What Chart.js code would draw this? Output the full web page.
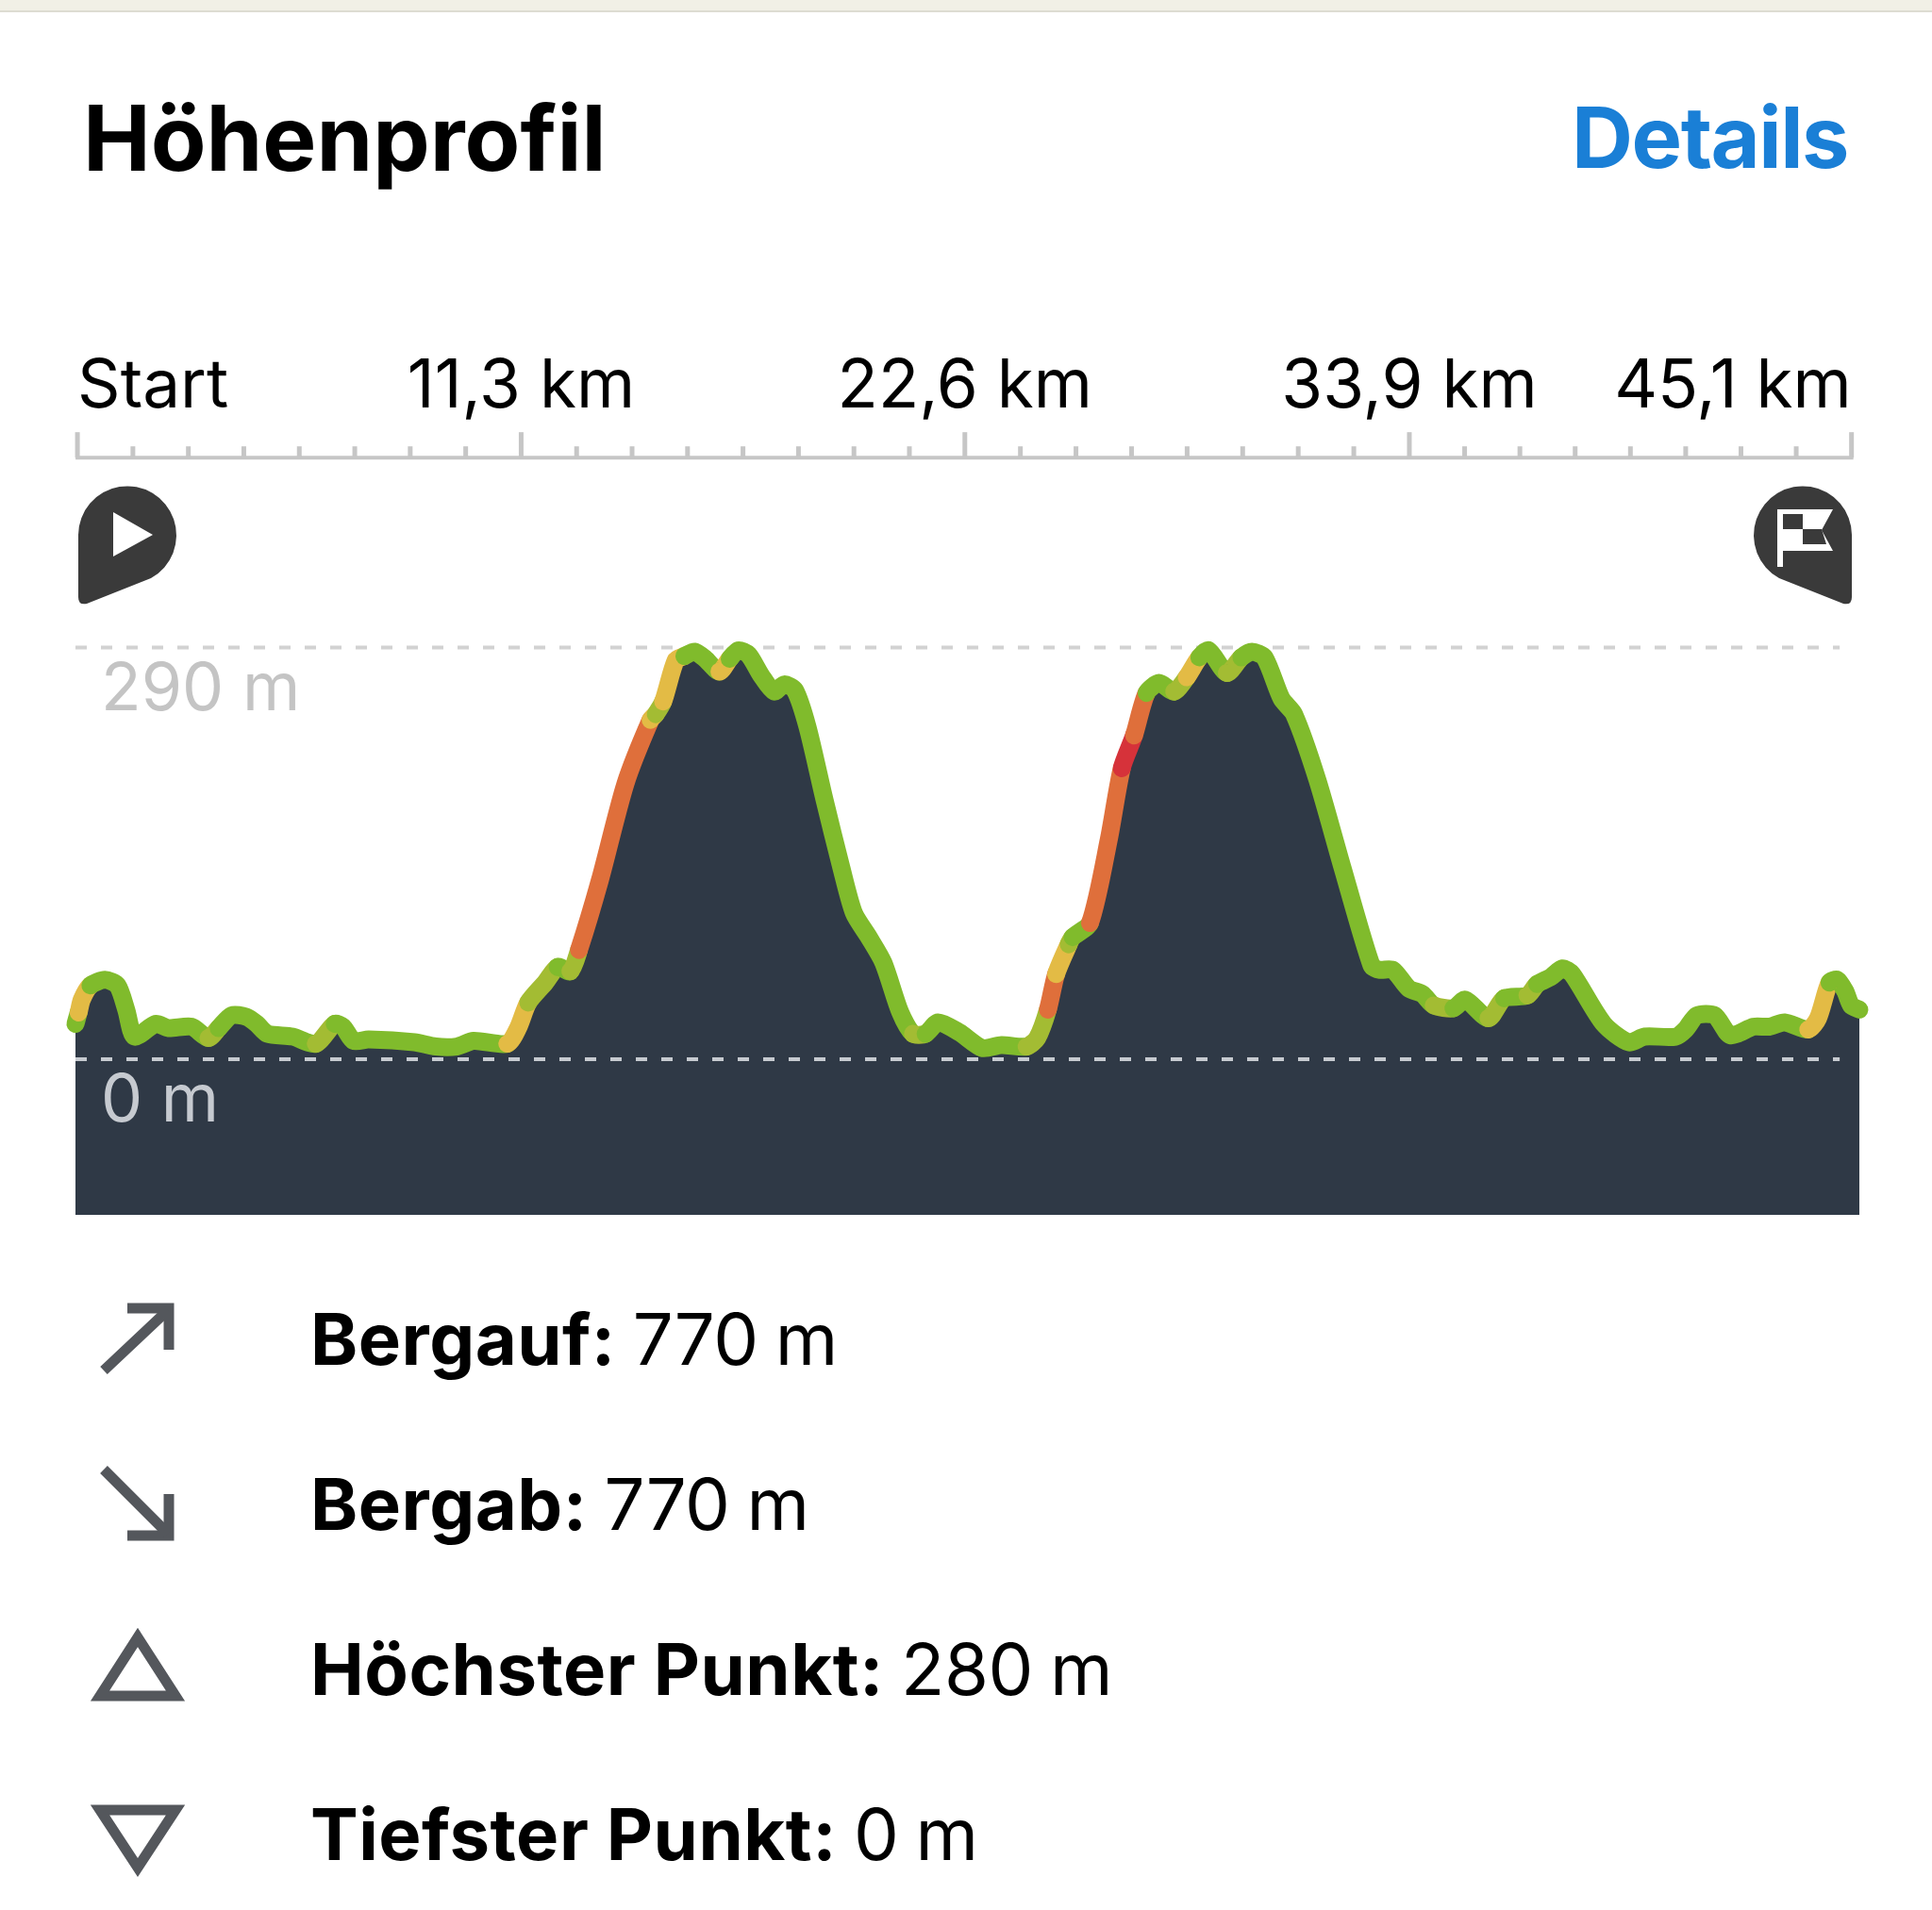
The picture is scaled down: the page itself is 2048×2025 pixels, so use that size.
<!DOCTYPE html>
<html lang="de">
<head>
<meta charset="utf-8">
<title>Höhenprofil</title>
<script src="https://cdn.jsdelivr.net/npm/chart.js@4/dist/chart.umd.js"></script>
<style>
    html, body { margin: 0; background: #ffffff; }
    body { position: relative; width: 2048px; height: 2025px; overflow: hidden; font-family: Inter, "Noto Sans", sans-serif; color: #000000; }
    #topStripe { position: absolute; left: 0; top: 0; width: 2048px; height: 11px; background: #f1f0e6; border-bottom: 2px solid #dddcd2; }
    #profile { position: absolute; left: 0; top: 0; }
    #icons { position: absolute; left: 0; top: 0; }
    .heading { position: absolute; top: 92px; font-weight: 700; line-height: 108px; white-space: nowrap; }
    #title { left: 88px; font-size: 96px; }
    #details { right: 89px; font-size: 90px; letter-spacing: -1.5px; color: #1a7fd6; }
    .stat { position: absolute; left: 329px; font-size: 76px; line-height: 90px; letter-spacing: -0.4px; word-spacing: -3px; white-space: nowrap; }
    .stat b { font-weight: 700; letter-spacing: 0.5px; word-spacing: 0; }
</style>
</head>
<body>
<div id="topStripe"></div>
<canvas id="profile" width="2048" height="2025"></canvas>
<svg id="icons" width="2048" height="2025" viewBox="0 0 2048 2025">
    <!-- start pin -->
    <path d="M83 567 A52 52 0 1 1 160 613 L92 640 Q83 642 83 633 Z" fill="#3a3a3a"/>
    <path d="M120 543 L162 567 L120 590 Z" fill="#ffffff"/>
    <!-- finish pin -->
    <path d="M1963 567 A52 52 0 1 0 1886 613 L1954 640 Q1963 642 1963 633 Z" fill="#3a3a3a"/>
    <path d="M1884 540 L1943 540 L1931 562 L1943 584 L1890 584 L1890 601 L1884 601 Z" fill="#ffffff"/>
    <path d="M1890 545 L1911 545 L1911 561 L1890 561 Z M1911 561 L1931 561 L1936 577 L1911 577 Z" fill="#3a3a3a"/>
    <!-- stats icons -->
    <g fill="none" stroke="#54575c" stroke-width="11">
        <path d="M135 1387 L179 1387 L179 1431"/>
        <path d="M110 1453 L178 1389"/>
        <path d="M135 1628 L179 1628 L179 1584"/>
        <path d="M110 1558 L178 1626"/>
        <path d="M146 1736 L186 1798 L106 1798 Z"/>
        <path d="M106 1919 L186 1919 L146 1980 Z"/>
    </g>
</svg>
<div id="title" class="heading">Höhenprofil</div>
<div id="details" class="heading">Details</div>

<script>
// Route profile
const distanceKm = [
    -0.05, 0.03, 0.11, 0.33, 0.70, 1.02, 1.24, 1.45, 1.99, 2.31, 2.90, 3.33, 3.59, 3.92, 4.29, 4.56, 4.83, 5.47,
    6.06, 6.54, 6.75, 7.02, 7.40, 8.57, 9.11, 9.64, 10.07, 10.93, 11.20, 11.46, 11.89, 12.21, 12.53, 12.75,
    13.28, 13.93, 14.57, 14.70, 14.89, 15.21, 15.43, 15.69, 15.96, 16.32, 16.58, 16.80, 17.06, 17.39, 17.71,
    17.97, 18.24, 18.56, 18.99, 19.42, 19.74, 20.12, 20.49, 20.92, 21.24, 21.56, 21.88, 22.42, 23.00, 23.49,
    24.13, 24.40, 24.67, 24.88, 25.20, 25.30, 25.74, 26.22, 26.55, 26.86, 27.18, 27.50, 27.88, 28.20, 28.52,
    28.76, 29.22, 29.59, 29.86, 30.18, 30.61, 30.93, 31.52, 32.16, 32.90, 33.10, 33.44, 33.84, 34.19, 34.48,
    34.98, 35.28, 35.87, 36.27, 36.86, 37.11, 37.46, 37.75, 38.00, 38.80, 39.44, 39.84, 40.63, 40.88, 41.17,
    41.62, 42.02, 42.61, 43.01, 43.40, 44.00, 44.25, 44.54, 44.74, 44.94, 45.09, 45.30
];
const elevationM = [
    25, 33, 42, 52, 56, 52, 35, 16, 25, 22, 23, 15, 22, 31, 30, 25, 18, 16,
    11, 25, 23, 13, 14, 12, 9, 9, 13, 11, 22, 40, 54, 65, 62, 77,
    126, 194, 239, 243, 252, 281, 284, 287, 282, 273, 282, 288, 285, 270, 259,
    264, 260, 234, 183, 135, 103, 86, 68, 33, 18, 18, 26, 19, 8, 10,
    9, 15, 35, 60, 81, 86, 96, 155, 205, 228, 258, 265, 259, 269, 283,
    288, 272, 283, 287, 283, 254, 243, 197, 135, 66, 63, 63, 50, 46, 38,
    36, 42, 29, 43, 45, 53, 58, 64, 60, 25, 12, 16, 16, 21, 31,
    31, 17, 23, 23, 26, 21, 29, 54, 56, 48, 38, 35
];

// Steepness bands along the route: band i starts at gradeStartKm[i]
const gradeStartKm = [
    -0.05, 0.03, 0.33, 3.33, 3.59, 6.06, 6.54, 10.93, 11.46, 12.21, 12.53, 12.75, 14.57, 14.70, 14.89, 15.43,
    16.32, 16.58, 21.24, 21.56, 24.13, 24.67, 24.88, 25.20, 25.30, 25.74, 26.55, 26.86, 27.18, 27.88, 28.20, 28.52,
    29.22, 29.59, 34.48, 34.98, 35.87, 36.27, 36.86, 37.11, 37.46, 44.00, 44.54
];
const gradeBand = [
    'flat', 'medium', 'flat', 'gentle', 'flat', 'gentle', 'flat', 'medium', 'gentle', 'flat', 'gentle', 'steep', 'medium', 'gentle', 'medium', 'flat',
    'medium', 'flat', 'gentle', 'flat', 'gentle', 'steep', 'medium', 'gentle', 'flat', 'steep', 'extreme', 'steep', 'flat', 'gentle', 'medium', 'flat',
    'gentle', 'flat', 'gentle', 'flat', 'gentle', 'flat', 'gentle', 'flat', 'flat', 'medium', 'flat'
];

const majorTickKm = [0, 11.28, 22.56, 33.86, 45.1];
const majorTickLabels = ['Start', '11,3 km', '22,6 km', '33,9 km', '45,1 km'];
const elevationTicks = [0, 290];
const elevationTickLabels = ['0 m', '290 m'];
const guideEndKm = 44.8;

const statNames = ['Bergauf:', 'Bergab:', 'Höchster Punkt:', 'Tiefster Punkt:'];
const statValues = ['770 m', '770 m', '280 m', '0 m'];

const GRADE_COLORS = {
    flat: '#80bb2c',
    gentle: '#a3bc33',
    medium: '#e3bb45',
    steep: '#df6f3b',
    extreme: '#d6323a'
};
const MINOR_PER_MAJOR = 8;
const STAT_TOPS = [1374, 1549, 1724, 1899];

// Stats list under the chart
statNames.forEach((name, i) => {
    const row = document.createElement('div');
    row.className = 'stat';
    row.style.top = `${STAT_TOPS[i]}px`;
    row.innerHTML = `<b>${name}</b> ${statValues[i]}`;
    document.body.appendChild(row);
});

function gradeColorAt(km) {
    let band = gradeBand[0];
    gradeStartKm.forEach((start, i) => {
        if (km >= start) band = gradeBand[i];
    });
    return GRADE_COLORS[band];
}

function allTicks() {
    // every major interval is split into eight small ticks
    const ticks = [];
    for (let i = 0; i < majorTickKm.length - 1; i++) {
        const step = (majorTickKm[i + 1] - majorTickKm[i]) / MINOR_PER_MAJOR;
        for (let j = 0; j < MINOR_PER_MAJOR; j++) {
            ticks.push(majorTickKm[i] + j * step);
        }
    }
    ticks.push(majorTickKm[majorTickKm.length - 1]);
    return ticks;
}

// Axis labels may hang over the plot, so keep the layout from reserving room for them
function noLabelPadding(scale) {
    scale.paddingLeft = 0;
    scale.paddingRight = 0;
    scale.paddingTop = 0;
    scale.paddingBottom = 0;
}

const profilePoints = distanceKm.map((km, i) => ({ x: km, y: elevationM[i] }));

function guideLine(elevation, color) {
    return {
        data: [{ x: distanceKm[0], y: elevation }, { x: guideEndKm, y: elevation }],
        borderColor: color,
        borderWidth: 4,
        borderDash: [12, 15],
        pointRadius: 0,
        fill: false
    };
}

// Ruler above the chart: long ticks at the labels, short ones between,
// first and last label flush with the ends of the ruler
const rulerPlugin = {
    id: 'ruler',
    beforeDraw(chart) {
        const x = chart.scales.x;
        const items = x.getLabelItems(chart.chartArea);
        items[0].options.textAlign = 'left';
        items[items.length - 1].options.textAlign = 'right';

        const ctx = chart.ctx;
        const baseY = chart.chartArea.top - 1;
        ctx.save();
        ctx.strokeStyle = '#c6c6c6';
        ctx.lineWidth = 4;
        ctx.beginPath();
        ctx.moveTo(x.getPixelForValue(0) - 2, baseY);
        ctx.lineTo(x.getPixelForValue(45.1) + 2, baseY);
        ctx.stroke();
        ctx.lineWidth = 5;
        allTicks().forEach((km, i) => {
            const px = x.getPixelForValue(km);
            ctx.beginPath();
            ctx.moveTo(px, baseY);
            ctx.lineTo(px, baseY - (i % MINOR_PER_MAJOR === 0 ? 27 : 12));
            ctx.stroke();
        });
        ctx.restore();
    }
};

new Chart(document.getElementById('profile'), {
    type: 'line',
    data: {
        datasets: [
            {
                // coloured route line, drawn on top
                data: profilePoints,
                borderColor: GRADE_COLORS.flat,
                borderWidth: 19,
                borderCapStyle: 'round',
                borderJoinStyle: 'round',
                tension: 0.25,
                pointRadius: 0,
                fill: false,
                clip: false,
                segment: {
                    borderColor: ctx => gradeColorAt(distanceKm[ctx.p0DataIndex]),
                    borderWidth: 19
                }
            },
            guideLine(0, '#c6cad0'),
            guideLine(290, '#d2d2d2'),
            {
                // dark area under the route
                data: profilePoints,
                borderWidth: 0,
                backgroundColor: '#2f3946',
                tension: 0.25,
                pointRadius: 0,
                fill: 'start'
            }
        ]
    },
    options: {
        responsive: false,
        animation: false,
        layout: { autoPadding: false, padding: { left: 80, right: 77, top: 343, bottom: 737 } },
        plugins: { legend: { display: false }, tooltip: { enabled: false } },
        scales: {
            x: {
                type: 'linear',
                position: 'top',
                min: -0.05,
                max: 45.3,
                grid: { display: false },
                border: { display: false },
                afterFit: noLabelPadding,
                afterBuildTicks: scale => {
                    scale.ticks = allTicks().map(value => ({ value }));
                },
                ticks: {
                    autoSkip: false,
                    maxRotation: 0,
                    padding: 25,
                    color: '#000000',
                    font: { family: 'Inter', size: 71 },
                    callback: (value, index) => {
                        return index % MINOR_PER_MAJOR === 0 ? majorTickLabels[index / MINOR_PER_MAJOR] : '';
                    }
                }
            },
            y: {
                min: -109.5,
                max: 423,
                grid: { display: false },
                border: { display: false },
                afterFit: scale => {
                    // labels sit inside the plot, the axis itself takes no room
                    noLabelPadding(scale);
                    scale.width = 0;
                },
                afterBuildTicks: scale => {
                    scale.ticks = elevationTicks.map(value => ({ value }));
                },
                ticks: {
                    mirror: true,
                    z: 1,
                    padding: 27,
                    labelOffset: 45,
                    color: ctx => ctx.index === 0 ? '#c6cad0' : '#c4c4c4',
                    font: { family: 'Inter', size: 70 },
                    callback: (value, index) => elevationTickLabels[index]
                }
            }
        }
    },
    plugins: [rulerPlugin]
});
</script>
</body>
</html>
